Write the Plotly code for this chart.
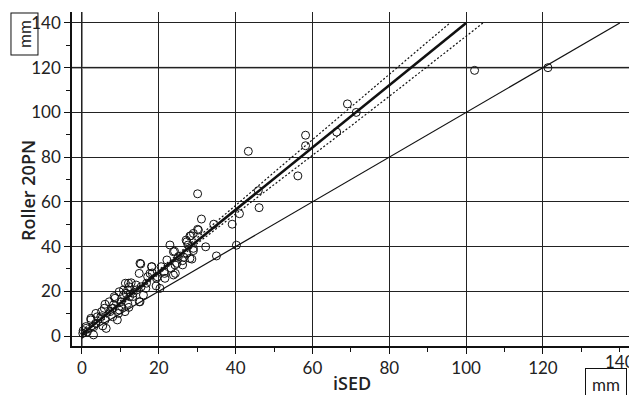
import plotly.graph_objects as go

# Scatter data (iSED mm, Roller 20PN mm)
ised = [0.3, 1.0, 1.4, 2.3, 3.1, 3.0, 4.0, 5.1, 5.4, 6.0, 6.0, 7.3, 8.0, 8.2, 8.6, 9.2, 9.5,
        10.3, 10.8, 11.2, 11.9, 12.2, 12.4, 12.8, 13.3, 14.2, 14.9, 15.1, 15.3, 16.0, 16.6, 17.1,
        18.2, 18.3, 19.3, 19.6, 20.3, 20.6, 21.5, 22.1, 22.9, 23.2, 24.1, 24.3, 24.7, 25.1, 26.2,
        26.5, 27.1, 27.6, 28.4, 28.6, 29.0, 30.1, 30.3, 31.1, 32.2, 34.3, 35.0, 39.1, 40.2, 41.0,
        43.3, 45.9, 46.1, 56.2, 58.2, 58.2, 66.3, 69.1, 71.4, 102.2, 121.3,
        11.3, 12.3, 14.1, 15.4, 9.7, 11.5, 13.2, 8.4, 7.1, 10.2, 11.9, 14.9, 5.8, 8.0, 9.7, 3.6,
        4.9, 2.3, 3.6, 1.0, 6.3, 0.2,
        23.8, 15.1, 18.1, 24.2, 17.7, 21.4, 19.4, 23.8, 12.1, 10.8, 16.8, 21.6,
        27.3, 28.1, 29.0, 30.1, 27.3, 29.0, 26.2, 28.1]
roller = [2.4, 4.2, 1.9, 7.9, 4.2, 0.5, 8.6, 10.9, 4.5, 14.2, 7.2, 10.9, 8.6, 13.9, 16.9, 7.2, 10.1,
          13.1, 18.3, 10.9, 20.6, 12.8, 17.6, 23.8, 19.1, 20.6, 28.0, 15.3, 32.2, 18.3, 21.3, 26.5,
          31.0, 28.2, 22.4, 26.5, 21.3, 31.0, 28.0, 34.0, 40.7, 30.3, 37.9, 28.0, 32.5, 35.5, 31.8,
          35.2, 42.9, 40.7, 44.9, 34.4, 38.2, 63.6, 47.4, 52.3, 39.9, 50.0, 35.8, 50.0, 40.6, 54.7,
          82.6, 65.0, 57.4, 71.6, 89.8, 85.1, 91.2, 103.8, 100.0, 118.8, 120.0,
          23.6, 22.0, 22.8, 22.0, 19.8, 19.1, 17.6, 17.6, 15.3, 15.3, 14.6, 15.3, 12.4, 12.4, 11.6, 10.1,
          8.6, 7.2, 5.7, 3.4, 3.4, 1.2,
          37.7, 32.5, 31.0, 31.8, 28.0, 28.8, 25.8, 27.3, 23.6, 20.6, 23.6, 25.8,
          37.0, 44.7, 45.9, 47.7, 42.2, 39.2, 33.7, 34.7]

# Identity line
ident_x = [0, 140]
ident_y = [0, 140]

# Regression line
reg_x = [0, 100]
reg_y = [0.8, 140]

# Confidence band (dotted), clipped at 140
band_hi_x = [0, 10, 20, 30, 40, 50, 60, 70, 80, 90, 95.8]
band_hi = [2.6, 15.8, 29.5, 43.8, 58.4, 73.2, 87.9, 102.5, 117.2, 131.6, 140.0]
band_lo_x = [0, 10, 20, 30, 40, 50, 60, 70, 80, 90, 100, 104.4]
band_lo = [-1.0, 13.6, 27.7, 41.4, 54.6, 67.6, 80.7, 93.9, 107.2, 120.6, 134.1, 140.0]

tick_vals = [0, 20, 40, 60, 80, 100, 120, 140]
tick_text = ["0", "20", "40", "60", "80", "100", "120", "140"]

FONT = "Lato, 'Open Sans', sans-serif"
TFONT = "'Open Sans', Lato, sans-serif"

fig = go.Figure()

fig.add_trace(go.Scatter(x=ident_x, y=ident_y, mode="lines",
                         line=dict(color="#111", width=1.2), hoverinfo="skip"))
fig.add_trace(go.Scatter(x=band_hi_x, y=band_hi, mode="lines",
                         line=dict(color="#111", width=1.2, dash="2px,2px"), hoverinfo="skip"))
fig.add_trace(go.Scatter(x=band_lo_x, y=band_lo, mode="lines",
                         line=dict(color="#111", width=1.2, dash="2px,2px"), hoverinfo="skip"))
fig.add_trace(go.Scatter(x=reg_x, y=reg_y, mode="lines",
                         line=dict(color="#111", width=2.6), hoverinfo="skip"))
fig.add_trace(go.Scatter(x=ised, y=roller, mode="markers",
                         marker=dict(symbol="circle-open", size=8,
                                     color="#111", line=dict(width=1, color="#111"))))

# gray gridlines (x=0, y=120) as in the reference
fig.add_shape(type="line", xref="x", yref="paper", x0=0, x1=0, y0=0, y1=1,
              line=dict(color="#888", width=2), layer="between")
fig.add_shape(type="line", xref="paper", yref="y", x0=0, x1=1, y0=120, y1=120,
              line=dict(color="#888", width=2), layer="between")

axis_common = dict(
    showgrid=True, gridcolor="#222", gridwidth=1,
    zeroline=False, showline=True, linecolor="#111", linewidth=1.5,
    ticks="outside", ticklen=6, tickcolor="#111", tickwidth=1.2,
    minor=dict(dtick=10, tick0=0, ticks="outside", ticklen=4, tickcolor="#111", showgrid=False),
    tickfont=dict(family=FONT, size=17, color="#222"),
    ticklabeloverflow="allow",
)

fig.update_layout(
    width=629, height=395,
    margin=dict(l=72, r=0, t=12, b=49),
    paper_bgcolor="white", plot_bgcolor="white",
    showlegend=False,
    xaxis=dict(range=[-2.6, 142.4], tickmode="array", tickvals=tick_vals[:-1],
               ticktext=tick_text[:-1], **axis_common),
    yaxis=dict(range=[-4.47, 144.9], tickmode="array", tickvals=tick_vals,
               ticktext=tick_text, **axis_common),
    annotations=[
        dict(text=tick_text[-1], xref="x", yref="paper", x=tick_vals[-1], y=-0.045,
             xanchor="center", yanchor="middle", showarrow=False,
             font=dict(family=FONT, size=17, color="#222")),
        dict(text="mm", xref="paper", yref="paper", x=-0.0862, y=0.9356,
             xanchor="center", yanchor="middle", width=41, height=26,
             showarrow=False, textangle=-90, font=dict(family=FONT, size=17, color="#222"),
             bordercolor="#111", borderwidth=1, borderpad=0),
        dict(text="mm", xref="paper", yref="paper", x=0.9587, y=-0.113,
             xanchor="center", yanchor="middle", width=40, height=30,
             showarrow=False, font=dict(family=FONT, size=17, color="#222"),
             bordercolor="#111", borderwidth=1, borderpad=0),
        dict(text="Roller 20PN", xref="paper", yref="paper", x=-0.079, y=0.467,
             xanchor="center", yanchor="middle",
             showarrow=False, textangle=-90,
             font=dict(family=TFONT, size=18, color="#222", weight=600)),
        dict(text="iSED", xref="paper", yref="paper", x=0.5027, y=-0.111,
             xanchor="center", yanchor="middle",
             showarrow=False, font=dict(family=TFONT, size=18, color="#222", weight=600)),
    ],
)

fig.write_html("out.html")
